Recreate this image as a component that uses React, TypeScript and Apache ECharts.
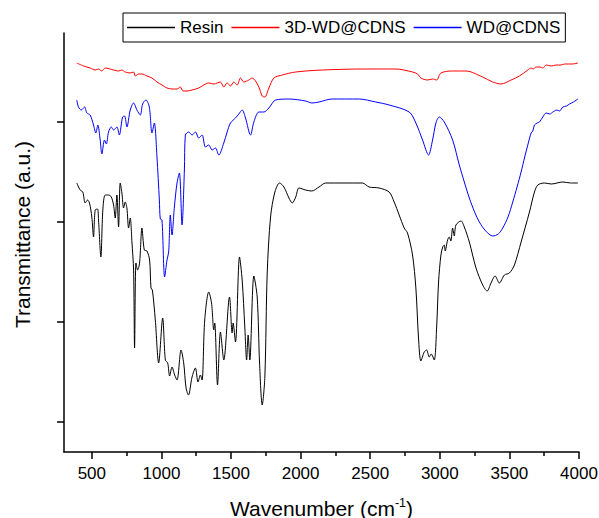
import React, { useEffect, useRef } from "react";
import * as echarts from "echarts";

const FONT = 'Arial, "Liberation Sans", Helvetica, sans-serif';

const seriesNames = ["Resin", "3D-WD@CDNS", "WD@CDNS"];
const seriesColors = ["#000000", "#ff0000", "#0000ff"];

const majorTicks = [500, 1000, 1500, 2000, 2500, 3000, 3500, 4000];
const minorTicks = [750, 1250, 1750, 2250, 2750, 3250, 3750];
const yTicks = [1, 2, 3, 4];

// [wavenumber (cm-1), transmittance (a.u., offset)]
const resin: [number, number][] = [
  [392, 3.39], [416, 3.32], [435, 3.3], [452, 3.19], [469, 3.22], [483, 3.19], [500, 3.05], [512, 2.85],
  [524, 3.12], [541, 3.13], [548, 3.02], [565, 2.65], [579, 3.12], [596, 3.27], [620, 3.27], [640, 3.25],
  [656, 3.17], [668, 3.04], [680, 3.27], [692, 2.95], [704, 3.39], [716, 3.29], [728, 3.14], [740, 3.2],
  [752, 3.14], [764, 2.94], [776, 3.04], [788, 2.8], [800, 2.52], [807, 1.74], [817, 2.59], [829, 2.52],
  [843, 2.59], [860, 2.94], [877, 2.72], [896, 2.71], [915, 2.62], [925, 2.34], [935, 2.32], [956, 2.02],
  [980, 1.59], [1009, 2.04], [1028, 1.62], [1045, 1.59], [1059, 1.46], [1076, 1.55], [1095, 1.47],
  [1112, 1.42], [1141, 1.72], [1160, 1.59], [1177, 1.34], [1194, 1.27], [1220, 1.45], [1244, 1.54],
  [1263, 1.4], [1280, 1.47], [1292, 1.42], [1311, 2.02], [1340, 2.3], [1360, 2.19], [1376, 1.92],
  [1383, 1.99], [1403, 1.37], [1424, 1.9], [1448, 1.62], [1489, 2.25], [1508, 1.89], [1515, 1.99],
  [1532, 1.8], [1561, 2.65], [1580, 2.42], [1599, 1.95], [1612, 1.62], [1623, 1.87], [1635, 1.62],
  [1664, 2.46], [1688, 2.25], [1705, 1.59], [1724, 1.17], [1743, 1.45], [1760, 2.49], [1784, 3.05],
  [1815, 3.3], [1849, 3.39], [1880, 3.35], [1916, 3.24], [1940, 3.19], [1965, 3.25], [1988, 3.34],
  [2036, 3.32], [2080, 3.31], [2132, 3.35], [2180, 3.39], [2444, 3.39], [2492, 3.35], [2564, 3.34],
  [2636, 3.3], [2672, 3.2], [2708, 3.07], [2744, 2.94], [2768, 2.89], [2804, 2.67], [2828, 2.34],
  [2847, 1.84], [2864, 1.61], [2888, 1.7], [2905, 1.72], [2924, 1.65], [2938, 1.68], [2960, 1.62],
  [2977, 1.94], [2991, 2.4], [3008, 2.67], [3021, 2.75], [3032, 2.77], [3039, 2.71], [3056, 2.82],
  [3068, 2.85], [3079, 2.81], [3092, 2.94], [3104, 2.86], [3116, 2.97], [3152, 3.01], [3176, 2.95],
  [3212, 2.8], [3260, 2.54], [3308, 2.37], [3340, 2.31], [3368, 2.39], [3397, 2.46], [3428, 2.39],
  [3464, 2.47], [3500, 2.49], [3536, 2.57], [3584, 2.8], [3644, 3.1], [3680, 3.3], [3704, 3.37],
  [3752, 3.39], [3800, 3.38], [3884, 3.4], [3940, 3.39], [3992, 3.39],
];

const wd3d: [number, number][] = [
  [392, 4.59], [440, 4.56], [488, 4.54], [524, 4.52], [548, 4.53], [572, 4.51], [596, 4.54], [656, 4.52],
  [692, 4.51], [716, 4.52], [740, 4.5], [776, 4.49], [800, 4.5], [812, 4.46], [836, 4.48], [860, 4.48],
  [896, 4.46], [932, 4.44], [968, 4.4], [1004, 4.37], [1040, 4.34], [1076, 4.33], [1112, 4.33],
  [1136, 4.35], [1155, 4.31], [1184, 4.31], [1220, 4.32], [1268, 4.34], [1304, 4.37], [1340, 4.39],
  [1376, 4.38], [1424, 4.4], [1448, 4.35], [1472, 4.39], [1496, 4.36], [1520, 4.4], [1544, 4.37],
  [1568, 4.44], [1592, 4.4], [1628, 4.42], [1652, 4.44], [1676, 4.41], [1700, 4.35], [1724, 4.26],
  [1743, 4.25], [1772, 4.34], [1808, 4.44], [1868, 4.47], [1964, 4.5], [2156, 4.52], [2468, 4.53],
  [2684, 4.53], [2804, 4.5], [2840, 4.48], [2864, 4.44], [2912, 4.42], [2948, 4.43], [2977, 4.42],
  [3008, 4.49], [3092, 4.51], [3188, 4.51], [3308, 4.45], [3380, 4.4], [3440, 4.38], [3512, 4.42],
  [3572, 4.46], [3632, 4.52], [3656, 4.54], [3670, 4.53], [3692, 4.55], [3720, 4.55], [3740, 4.54],
  [3764, 4.57], [3800, 4.56], [3836, 4.57], [3870, 4.57], [3896, 4.58], [3950, 4.58], [3992, 4.59],
];

const wd: [number, number][] = [
  [392, 4.22], [404, 4.15], [424, 4.12], [448, 4.15], [464, 4.09], [488, 4.07], [512, 3.97], [529, 3.89],
  [543, 3.97], [560, 3.82], [572, 3.68], [591, 3.82], [604, 3.78], [620, 3.9], [640, 3.95], [656, 3.92],
  [680, 3.95], [697, 3.87], [721, 4.05], [735, 4.06], [752, 3.95], [776, 4.12], [800, 4.19], [824, 4.12],
  [848, 4.07], [865, 4.18], [889, 4.22], [913, 4.15], [932, 3.89], [949, 3.99], [968, 3.65], [985, 3.22],
  [992, 3.03], [1004, 3.02], [1023, 2.45], [1040, 2.62], [1052, 2.7], [1064, 3.07], [1076, 2.87],
  [1093, 3.15], [1112, 3.39], [1129, 3.49], [1148, 2.97], [1165, 3.52], [1172, 3.87], [1196, 3.9],
  [1220, 3.87], [1244, 3.9], [1268, 3.84], [1292, 3.87], [1316, 3.75], [1340, 3.77], [1364, 3.72],
  [1388, 3.74], [1412, 3.67], [1448, 3.79], [1472, 3.9], [1496, 3.99], [1532, 4.04], [1556, 4.08],
  [1580, 4.12], [1604, 4.04], [1640, 3.87], [1664, 4.0], [1700, 4.1], [1736, 4.1], [1772, 4.14],
  [1820, 4.22], [1916, 4.23], [2036, 4.21], [2080, 4.19], [2132, 4.2], [2226, 4.23], [2420, 4.23],
  [2540, 4.2], [2636, 4.17], [2780, 4.1], [2828, 3.99], [2876, 3.82], [2919, 3.67], [2948, 3.82],
  [2972, 3.99], [2996, 4.05], [3032, 4.0], [3092, 3.82], [3140, 3.57], [3176, 3.4], [3212, 3.24],
  [3250, 3.1], [3284, 3.0], [3330, 2.91], [3380, 2.86], [3420, 2.88], [3452, 2.94], [3490, 3.05],
  [3524, 3.2], [3555, 3.35], [3584, 3.5], [3610, 3.65], [3632, 3.77], [3656, 3.89], [3668, 3.91],
  [3680, 3.97], [3700, 3.99], [3716, 4.0], [3740, 4.05], [3764, 4.09], [3790, 4.08], [3812, 4.1],
  [3840, 4.12], [3860, 4.11], [3884, 4.15], [3910, 4.16], [3932, 4.18], [3960, 4.2], [3992, 4.23],
];

const seriesData = [resin, wd3d, wd];

export default function App() {
  const ref = useRef<HTMLDivElement>(null);

  useEffect(() => {
    if (!ref.current) return;
    const chart = echarts.init(ref.current, null, { renderer: "svg" });
    const axisColor = "#000";
    chart.setOption({
      animation: false,
      backgroundColor: "#ffffff",
      textStyle: { fontFamily: FONT },
      grid: { left: 64, right: 20, top: 33, bottom: 66, containLabel: false, outerBoundsMode: "none" },
      legend: {
        data: seriesNames.map((name, i) => ({
          name,
          icon: "rect",
          itemStyle: { color: seriesColors[i], borderWidth: 0 },
        })),
        left: 123,
        top: 13,
        orient: "horizontal",
        itemWidth: 48,
        itemHeight: 1.5,
        itemGap: 8,
        padding: [6, 5, 6, 4],
        borderColor: "#000",
        borderWidth: 1,
        borderRadius: 0,
        textStyle: { fontSize: 17, color: "#000", fontFamily: FONT },
      },
      xAxis: [
        {
          type: "value",
          min: 300,
          max: 4000,
          position: "bottom",
          name: "{a|Wavenumber (cm}{s|-1}{a|)}",
          nameLocation: "middle",
          nameGap: 44,
          nameTextStyle: {
            fontSize: 21,
            color: "#000",
            fontFamily: FONT,
            rich: {
              a: { fontSize: 21, lineHeight: 24, color: "#000", fontFamily: FONT },
              s: { fontSize: 12.5, lineHeight: 14, verticalAlign: "top", color: "#000", fontFamily: FONT },
            },
          },
          axisLine: { show: true, lineStyle: { color: axisColor, width: 1.5 } },
          axisTick: {
            show: true,
            inside: false,
            length: 7,
            customValues: majorTicks,
            lineStyle: { color: axisColor, width: 1.5 },
          },
          axisLabel: {
            show: true,
            customValues: majorTicks,
            margin: 13,
            fontSize: 17,
            color: "#000",
            fontFamily: FONT,
            formatter: (v: number) => String(v),
          },
          splitLine: { show: false },
        },
        {
          type: "value",
          min: 300,
          max: 4000,
          position: "bottom",
          axisLine: { show: false },
          axisTick: {
            show: true,
            inside: false,
            length: 4,
            customValues: minorTicks,
            lineStyle: { color: axisColor, width: 1.5 },
          },
          axisLabel: { show: false },
          splitLine: { show: false },
        },
      ],
      yAxis: {
        type: "value",
        min: 0.7,
        max: 4.89,
        name: "Transmittance (a.u.)",
        nameLocation: "middle",
        nameGap: 31,
        nameTextStyle: { fontSize: 21, color: "#000", fontFamily: FONT, padding: [0, 0, 0, 16] },
        axisLine: { show: true, lineStyle: { color: axisColor, width: 1.5 } },
        axisTick: {
          show: true,
          inside: false,
          length: 7,
          customValues: yTicks,
          lineStyle: { color: axisColor, width: 1.5 },
        },
        axisLabel: { show: false },
        splitLine: { show: false },
      },
      series: seriesNames.map((name, i) => ({
        name,
        type: "line",
        xAxisIndex: 0,
        yAxisIndex: 0,
        data: seriesData[i],
        symbol: "none",
        showSymbol: false,
        smooth: 0.3,
        color: seriesColors[i],
        itemStyle: { color: seriesColors[i] },
        lineStyle: { color: seriesColors[i], width: 1 },
      })),
    });
    return () => chart.dispose();
  }, []);

  return (
    <div
      ref={ref}
      style={{ position: "fixed", left: 0, top: 0, width: 599, height: 518, background: "#fff" }}
    />
  );
}
